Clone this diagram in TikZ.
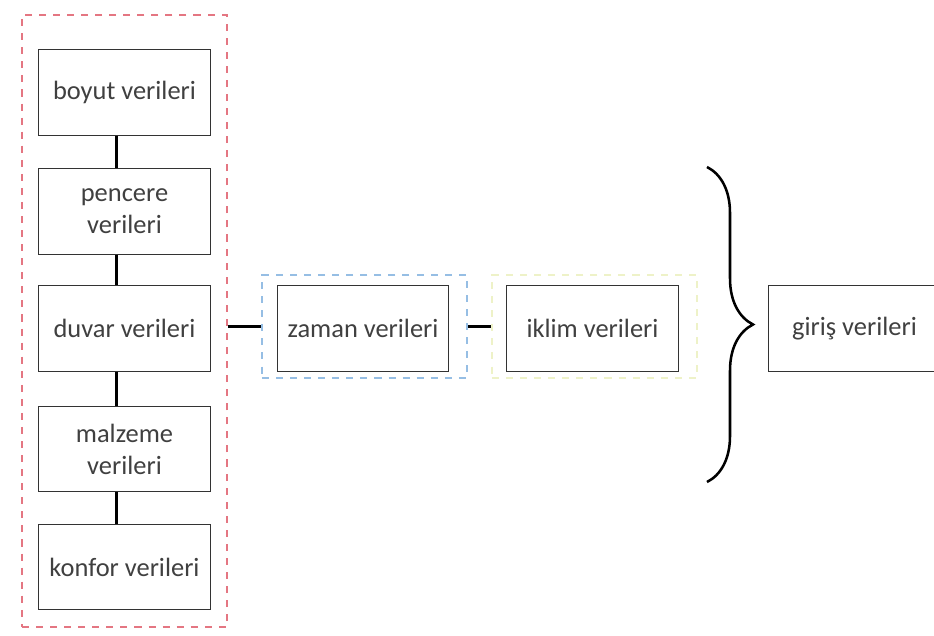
\documentclass[tikz,border=0pt]{standalone}
\usepackage{fontspec}
\setmainfont{Carlito}
\usetikzlibrary{decorations.pathreplacing}

\definecolor{grpred}{RGB}{228,118,130}
\definecolor{grpblue}{RGB}{150,190,228}
\definecolor{grpyellow}{RGB}{238,242,200}
\definecolor{txtgray}{RGB}{64,64,64}

\tikzset{
  veribox/.style={draw=black!80, line width=0.7pt, fill=white, text=txtgray,
    minimum width=4.275cm, minimum height=2.125cm, align=center, inner sep=0pt,
    font=\fontsize{18.8}{22.7}\selectfont},
  grupbox/.style={line width=1.7pt, dash pattern=on 5pt off 5pt, inner sep=0pt},
  baglanti/.style={line width=2.1pt, black}
}

\begin{document}
\begin{tikzpicture}[x=0.025cm, y=-0.025cm]
\useasboundingbox (0,0) rectangle (934,636);

% dashed group frames
\node[grupbox, draw=grpred, minimum width=5.125cm, minimum height=15.3cm] (kirmizi) at (124.5,321) {};
\node[grupbox, draw=grpblue, minimum width=5.125cm, minimum height=2.575cm] (mavi) at (364.5,326.5) {};
\node[grupbox, draw=grpyellow, minimum width=5.125cm, minimum height=2.575cm] (sari) at (594.5,326.5) {};

% left column
\node[veribox] (boyut) at (124.5,92.5) {boyut verileri};
\node[veribox] (pencere) at (124.5,211.5) {pencere\\verileri};
\node[veribox] (duvar) at (124.5,328.5) {duvar verileri};
\node[veribox] (malzeme) at (124.5,449) {malzeme\\verileri};
\node[veribox] (konfor) at (124.5,567) {konfor verileri};

% middle and right
\node[veribox] (zaman) at (363,328.5) {zaman verileri};
\node[veribox] (iklim) at (592.5,328.5) {iklim verileri};
\node[veribox] (giris) at (854.5,328.5) {giriş verileri};

% column links
\draw[baglanti] ([xshift=-0.2cm]boyut.south) -- ([xshift=-0.2cm]pencere.north);
\draw[baglanti] ([xshift=-0.2cm]pencere.south) -- ([xshift=-0.2cm]duvar.north);
\draw[baglanti] ([xshift=-0.2cm]duvar.south) -- ([xshift=-0.2cm]malzeme.north);
\draw[baglanti] ([xshift=-0.2cm]malzeme.south) -- ([xshift=-0.2cm]konfor.north);

% group links
\draw[baglanti] (kirmizi.east |- mavi.west) -- (mavi.west);
\draw[baglanti] (mavi.east) -- (sari.west);

% brace
\coordinate (parantezust) at (707,167);
\coordinate (parantezalt) at (707,482);
\draw[line width=1.8pt, decorate, decoration={brace, amplitude=1.15cm}] (parantezust) -- (parantezalt);

\end{tikzpicture}
\end{document}
